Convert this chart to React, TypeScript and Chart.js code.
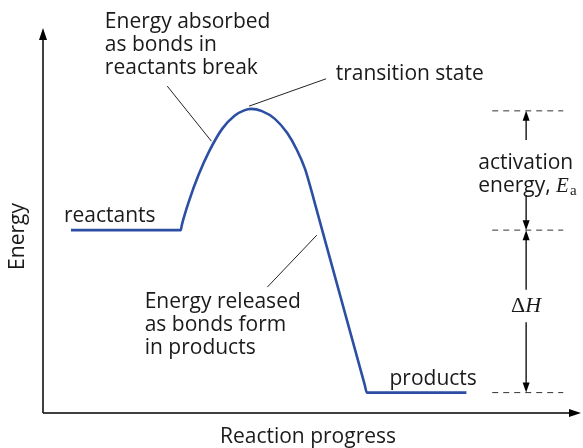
import React, { useEffect, useRef } from "react";
import { Chart, registerables } from "chart.js";

Chart.register(...registerables);

// Reaction progress (x) and energy (y) of the profile, arbitrary units 0-100
const progress = [5.2, 25.6, 25.8, 27.2, 28.9, 30.9, 33.3, 35.6, 37.4, 38.7, 40.7, 43.1, 45.4, 47.2, 48.7, 49.8, 50.7, 59.8, 60.2, 78.7];
const energy = [47.5, 47.5, 48.8, 55.3, 61.8, 68.0, 73.8, 77.2, 78.6, 79.0, 78.4, 76.4, 72.7, 68.3, 63.4, 58.2, 53.6, 7.3, 5.3, 5.3];

const xLabel = "Reaction progress";
const yLabel = "Energy";
const absorbedLines = ["Energy absorbed", "as bonds in", "reactants break"];
const releasedLines = ["Energy released", "as bonds form", "in products"];
const tsLabel = "transition state";
const reactLabel = "reactants";
const prodLabel = "products";
const actLines = ["activation", "energy, "];

const FONT = "21px 'Open Sans'";
const BLUE = "#2d4fa3";

function arrowHead(ctx: CanvasRenderingContext2D, x: number, y: number, dir: "up" | "down" | "right", len: number, half: number) {
  ctx.beginPath();
  if (dir === "up") {
    ctx.moveTo(x, y);
    ctx.lineTo(x - half, y + len);
    ctx.lineTo(x + half, y + len);
  } else if (dir === "down") {
    ctx.moveTo(x, y);
    ctx.lineTo(x - half, y - len);
    ctx.lineTo(x + half, y - len);
  } else {
    ctx.moveTo(x, y);
    ctx.lineTo(x - len, y - half);
    ctx.lineTo(x - len, y + half);
  }
  ctx.closePath();
  ctx.fill();
}

function line(ctx: CanvasRenderingContext2D, x1: number, y1: number, x2: number, y2: number) {
  ctx.beginPath();
  ctx.moveTo(x1, y1);
  ctx.lineTo(x2, y2);
  ctx.stroke();
}

const annotPlugin = {
  id: "annot",
  afterDraw(chart: any) {
    const ctx: CanvasRenderingContext2D = chart.ctx;
    const { left, right, top, bottom } = chart.chartArea;
    const xs = chart.scales.x;
    const ys = chart.scales.y;
    const X = (v: number) => xs.getPixelForValue(v);
    const Y = (v: number) => ys.getPixelForValue(v);
    ctx.save();
    ctx.fillStyle = "#000";
    ctx.strokeStyle = "#000";

    // axes
    ctx.lineWidth = 1.5;
    line(ctx, left, bottom, left, top + 8);
    line(ctx, left, bottom, right - 8, bottom);
    arrowHead(ctx, left, top, "up", 12, 4);
    arrowHead(ctx, right, bottom, "right", 12, 4);

    // texts
    ctx.font = FONT;
    ctx.fillStyle = "#1a1a1a";
    ctx.textAlign = "left";
    ctx.textBaseline = "alphabetic";
    absorbedLines.forEach((t, i) => ctx.fillText(t, X(11.5), Y(100.0) + i * 23));
    releasedLines.forEach((t, i) => ctx.fillText(t, X(18.9), Y(27.3) + i * 23));
    ctx.fillText(tsLabel, X(54.4), Y(86.5));
    ctx.fillText(reactLabel, X(3.9), Y(49.6));
    ctx.fillText(prodLabel, X(64.4), Y(7.3));

    // leader lines
    ctx.lineWidth = 1;
    ctx.strokeStyle = "#222";
    line(ctx, X(23.1), Y(84.9), X(31.3), Y(70.6));
    line(ctx, X(52.6), Y(86.8), X(38.3), Y(79.7));
    line(ctx, X(41.7), Y(32.7), X(50.9), Y(46.2));

    // energy levels (dashed)
    const topE = Math.max(...energy);
    const reactE = energy[0];
    const prodE = energy[energy.length - 1];
    const yTop = Y(topE) + 2;
    const yMid = Y(reactE);
    const yBot = Y(prodE);
    ctx.setLineDash([6, 5]);
    ctx.strokeStyle = "#333";
    [yTop, yMid, yBot].forEach((yy) => line(ctx, X(83.5), yy, X(96.7), yy));
    ctx.setLineDash([]);

    // arrows
    const ax = X(89.8);
    ctx.strokeStyle = "#000";
    ctx.fillStyle = "#000";
    ctx.lineWidth = 1.3;
    line(ctx, ax, yTop + 8, ax, Y(70.9));
    arrowHead(ctx, ax, yTop, "up", 10, 3.5);
    line(ctx, ax, Y(56.6), ax, yMid - 8);
    arrowHead(ctx, ax, yMid, "down", 10, 3.5);
    line(ctx, ax, yMid + 8, ax, Y(32.0));
    arrowHead(ctx, ax, yMid, "up", 10, 3.5);
    line(ctx, ax, Y(23.6), ax, yBot - 8);
    arrowHead(ctx, ax, yBot, "down", 10, 3.5);

    // activation energy text
    ctx.fillStyle = "#1a1a1a";
    ctx.font = FONT;
    ctx.textAlign = "left";
    const tx = X(80.9);
    ctx.fillText(actLines[0], tx, Y(63.4));
    ctx.fillText(actLines[1], tx, Y(63.4) + 23);
    const w = ctx.measureText(actLines[1]).width;
    ctx.font = "italic 21px 'Liberation Serif'";
    ctx.fillText("E", tx + w, Y(63.4) + 23);
    const we = ctx.measureText("E").width;
    ctx.font = "15px 'Liberation Serif'";
    ctx.fillText("a", tx + w + we + 1, Y(63.4) + 26);

    // Delta H
    ctx.font = "22px 'Liberation Serif'";
    const wd = ctx.measureText("Δ").width;
    ctx.font = "italic 22px 'Liberation Serif'";
    const wh = ctx.measureText("H").width;
    const sx = ax - (wd + wh) / 2;
    const by = Y(26.2);
    ctx.font = "22px 'Liberation Serif'";
    ctx.fillText("Δ", sx, by);
    ctx.font = "italic 22px 'Liberation Serif'";
    ctx.fillText("H", sx + wd, by);

    // axis titles
    ctx.font = FONT;
    ctx.textAlign = "center";
    ctx.fillText(xLabel, (left + right) / 2 - 4, bottom + 30);
    ctx.save();
    ctx.translate(24, (top + bottom) / 2 + 16);
    ctx.rotate(-Math.PI / 2);
    ctx.fillText(yLabel, 0, 0);
    ctx.restore();

    ctx.restore();
  },
};

export default function App() {
  const ref = useRef<HTMLCanvasElement | null>(null);
  useEffect(() => {
    document.body.style.margin = "0";
    const canvas = ref.current;
    if (!canvas) return;
    const chart = new Chart(canvas, {
      type: "line",
      data: {
        datasets: [
          {
            data: progress.map((x, i) => ({ x, y: energy[i] })),
            borderColor: BLUE,
            borderWidth: 2.6,
            pointRadius: 0,
            cubicInterpolationMode: "monotone",
            fill: false,
            borderJoinStyle: "round",
          },
        ],
      },
      options: {
        animation: false,
        responsive: false,
        maintainAspectRatio: false,
        layout: { padding: { left: 43, right: 2, top: 28, bottom: 35 } },
        plugins: { legend: { display: false }, tooltip: { enabled: false } },
        scales: {
          x: { type: "linear", min: 0, max: 100, display: false },
          y: { type: "linear", min: 0, max: 100, display: false },
        },
      },
      plugins: [annotPlugin],
    });
    return () => chart.destroy();
  }, []);
  return (
    <div style={{ width: 583, height: 448 }}>
      <canvas ref={ref} width={583} height={448} style={{ display: "block" }} />
    </div>
  );
}
